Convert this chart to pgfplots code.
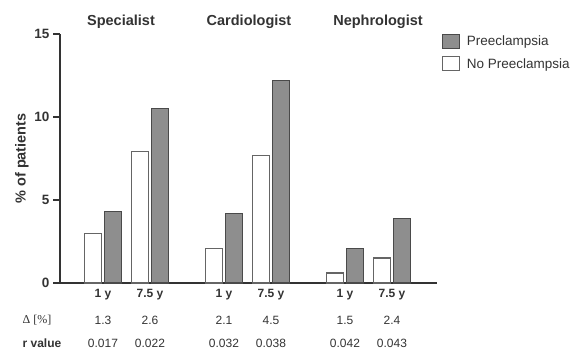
\documentclass[border=0pt]{standalone}
\usepackage{pgfplots}
\pgfplotsset{compat=1.18}
\usepackage{fontspec}
\setmainfont{Liberation Sans}
\newfontfamily\seriffont{Liberation Serif}
\definecolor{barGray}{HTML}{8E8E8E}
\definecolor{edgeCol}{HTML}{4A4A4A}
\definecolor{axisCol}{HTML}{333333}
\newcommand{\fs}[1]{\fontsize{#1}{#1}\selectfont}
\tikzset{
  tl/.style={font=\bfseries\fs{12}, text=axisCol},
  nl/.style={font=\fs{12}, text=axisCol},
  gt/.style={font=\bfseries\fs{14.5}, text=axisCol},
}
\pgfplotsset{
  sqlegend/.style={legend image code/.code={\draw[##1, line width=0.9pt] (0pt,-7pt) rectangle (17pt,7pt);}},
}
\begin{document}
\begin{tikzpicture}
\useasboundingbox (0,0) rectangle (581pt,350pt);
\begin{axis}[
  at={(60pt,67pt)}, anchor=south west,
  scale only axis, width=377pt, height=249pt,
  xmin=60, xmax=437, ymin=0, ymax=15,
  clip=false,
  axis x line=bottom, axis y line=left,
  axis line style={-, line width=1.6pt, axisCol},
  xtick=\empty,
  ytick={0,5,10,15},
  tick align=outside, major tick length=7pt,
  y tick style={line width=1.4pt, axisCol},
  /pgf/number format/assume math mode=true,
  yticklabel style={font=\bfseries\fs{13.5}, text=axisCol},
  ylabel={\% of patients},
  every axis y label/.style={at={(rel axis cs:-0.1008,0.5)}, rotate=90, anchor=center, font=\bfseries\fs{14.5}, text=axisCol},
  legend style={at={(rel axis cs:1.0133,1.0)}, anchor=north west, draw=none, fill=none,
     inner sep=0pt, outer sep=0pt, row sep=7pt, font=\fs{13.5}, text=axisCol,
     nodes={inner sep=2pt},
     /tikz/every odd column/.append style={column sep=5pt}},
  legend cell align=left,
]
\addplot[ybar, bar width=17pt, bar shift=0pt, fill=barGray, draw=edgeCol, line width=1.2pt, sqlegend]
  coordinates {(112.75,4.3) (159.75,10.5) (233.75,4.2) (280.75,12.2) (354.75,2.1) (401.75,3.9)};
\addlegendentry{Preeclampsia}
\addplot[ybar, bar width=17pt, bar shift=0pt, fill=white, draw=edgeCol!85, line width=1.2pt, sqlegend]
  coordinates {(93.25,3.0) (140.25,7.9) (214.25,2.1) (261.25,7.7) (335.25,0.6) (382.25,1.5)};
\addlegendentry{No Preeclampsia}
% group titles
\node[gt] at (axis cs:121,15.72) {Specialist};
\node[gt] at (axis cs:249,15.72) {Cardiologist};
\node[gt] at (axis cs:378,15.72) {Nephrologist};
% time labels
\node[tl] at (axis cs:103,-0.72) {1 y};
\node[tl] at (axis cs:150,-0.72) {7.5 y};
\node[tl] at (axis cs:224,-0.72) {1 y};
\node[tl] at (axis cs:271,-0.72) {7.5 y};
\node[tl] at (axis cs:345,-0.72) {1 y};
\node[tl] at (axis cs:392,-0.72) {7.5 y};
% delta row
\node[font=\seriffont\fs{12}, text=axisCol] at (axis cs:37,-2.23) {Δ [\%]};
\node[nl] at (axis cs:103,-2.23) {1.3};
\node[nl] at (axis cs:150,-2.23) {2.6};
\node[nl] at (axis cs:224,-2.23) {2.1};
\node[nl] at (axis cs:271,-2.23) {4.5};
\node[nl] at (axis cs:345,-2.23) {1.5};
\node[nl] at (axis cs:392,-2.23) {2.4};
% r value row
\node[tl] at (axis cs:42,-3.61) {r value};
\node[nl] at (axis cs:103,-3.61) {0.017};
\node[nl] at (axis cs:150,-3.61) {0.022};
\node[nl] at (axis cs:224,-3.61) {0.032};
\node[nl] at (axis cs:271,-3.61) {0.038};
\node[nl] at (axis cs:345,-3.61) {0.042};
\node[nl] at (axis cs:392,-3.61) {0.043};
\end{axis}
\end{tikzpicture}
\end{document}
